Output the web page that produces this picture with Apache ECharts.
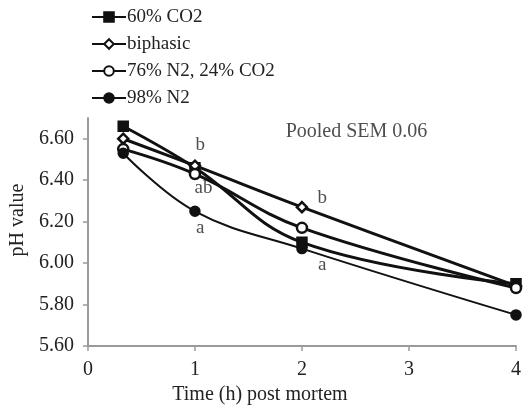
<!DOCTYPE html>
<html>
<head>
<meta charset="utf-8">
<script src="https://cdn.jsdelivr.net/npm/echarts@6/dist/echarts.min.js"></script>
<style>html,body{margin:0;padding:0;background:#fff;}#c{width:524px;height:410px;}</style>
</head>
<body>
<div id="c"></div>
<script>
var times = [0.33, 1, 2, 4];
var seriesNames = ['60% CO2', 'biphasic', '76% N2, 24% CO2', '98% N2'];
var co2_60 = [6.66, 6.46, 6.10, 5.90];
var biphasic = [6.60, 6.47, 6.27, 5.89];
var n2_76 = [6.55, 6.43, 6.17, 5.88];
var n2_98 = [6.53, 6.25, 6.07, 5.75];
var yTicks = [5.6, 5.8, 6.0, 6.2, 6.4, 6.6];
var xTicks = [0, 1, 2, 3, 4];
var noteText = ['b', 'ab', 'a', 'b', 'a', 'Pooled SEM 0.06'];
var noteX = [1.05, 1.08, 1.05, 2.19, 2.19, 2.51];
var noteY = [6.57, 6.36, 6.17, 6.315, 5.99, 6.635];

var font = 'Liberation Serif';
function pts(vals){ return vals.map(function(v,i){ return [times[i], v]; }); }
var styles = [
  {symbol:'rect', size:9, fill:'#111', lw:3},
  {symbol:'diamond', size:10, fill:'#fff', lw:3},
  {symbol:'circle', size:10, fill:'#fff', lw:3},
  {symbol:'circle', size:9, fill:'#111', lw:2}
];
var vals = [co2_60, biphasic, n2_76, n2_98];
var series = vals.map(function(v, k){
  var s = styles[k];
  return {
    name: seriesNames[k], type: 'line', data: pts(v), smooth: 0.4,
    symbol: s.symbol, symbolSize: s.size, showAllSymbol: true,
    lineStyle: {color: '#111', width: s.lw},
    itemStyle: {color: s.fill, borderColor: '#111', borderWidth: 2.5},
    emphasis: {disabled: true}, z: 3 + k
  };
});
series.push({
  type: 'scatter', symbolSize: 0, silent: true,
  data: noteText.map(function(t, i){
    return {name: t, value: [noteX[i], noteY[i]],
            label: {fontSize: t.length > 3 ? 20 : 19}};
  }),
  label: {show: true, position: 'inside', formatter: function(p){ return p.name; },
          fontFamily: font, fontSize: 19, color: '#222'}
});

var chart = echarts.init(document.getElementById('c'));
chart.setOption({
  animation: false,
  backgroundColor: '#fff',
  textStyle: {fontFamily: font},
  legend: {
    data: seriesNames, orient: 'vertical', left: 86, top: 2,
    itemWidth: 34, itemHeight: 12, itemGap: 7,
    textStyle: {fontFamily: font, fontSize: 19, color: '#222', lineHeight: 20, padding: [0,0,0,-4]},
    selectedMode: false
  },
  grid: {left: 85, right: 5, top: 118, bottom: 64, containLabel: false},
  xAxis: {
    type: 'value', min: 0, max: 4, interval: 1,
    name: 'Time (h) post mortem', nameLocation: 'middle', nameGap: 38,
    nameTextStyle: {fontFamily: font, fontSize: 20, color: '#222', padding: [0, 84, 0, 0]},
    axisLine: {show: true, lineStyle: {color: '#9a9a9a', width: 2}},
    axisTick: {show: true, length: 5, lineStyle: {color: '#9a9a9a', width: 1.5}},
    axisLabel: {fontFamily: font, fontSize: 20, color: '#222', margin: 14,
                customValues: xTicks},
    splitLine: {show: false}
  },
  yAxis: {
    type: 'value', min: 5.6, max: 6.7, interval: 0.2,
    name: 'pH value', nameLocation: 'middle', nameGap: 57, nameRotate: 90,
    nameTextStyle: {fontFamily: font, fontSize: 20, color: '#222', padding: [0, 0, 0, 24]},
    axisLine: {show: true, lineStyle: {color: '#9a9a9a', width: 2}},
    axisTick: {show: true, length: 5, lineStyle: {color: '#9a9a9a', width: 1.5},
               customValues: yTicks},
    axisLabel: {fontFamily: font, fontSize: 20, color: '#222', margin: 14,
                customValues: yTicks,
                formatter: function(v){ return v.toFixed(2); }},
    splitLine: {show: false}
  },
  series: series
});
</script>
</body>
</html>
